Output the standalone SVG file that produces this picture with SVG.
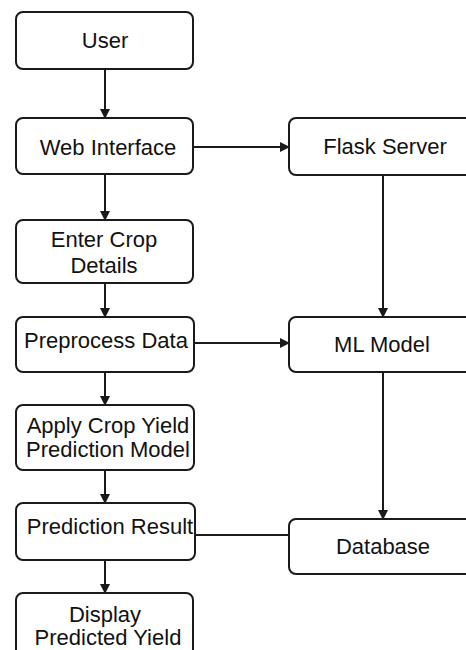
<svg xmlns="http://www.w3.org/2000/svg" width="466" height="650" viewBox="0 0 466 650">
<style>
.box{fill:#fff;stroke:#1a1a1a;stroke-width:2}
.t{font-family:"Liberation Sans",Arial,sans-serif;font-size:22px;fill:#111;text-anchor:middle}
.c{stroke:#1a1a1a;stroke-width:2;fill:none}
</style>
<defs>
<marker id="ah" markerWidth="10" markerHeight="10" refX="9" refY="5" orient="auto" markerUnits="userSpaceOnUse">
<path d="M0,0 L10,5 L0,10 Z" fill="#1a1a1a"/>
</marker>
</defs>
<rect width="466" height="650" fill="#fff"/>
<g id="connectors">
<line class="c" x1="105" y1="69" x2="105" y2="118" marker-end="url(#ah)"/>
<line class="c" x1="105" y1="174" x2="105" y2="220" marker-end="url(#ah)"/>
<line class="c" x1="105" y1="283" x2="105" y2="317" marker-end="url(#ah)"/>
<line class="c" x1="105" y1="372" x2="105" y2="405" marker-end="url(#ah)"/>
<line class="c" x1="105" y1="470" x2="105" y2="503" marker-end="url(#ah)"/>
<line class="c" x1="105" y1="560" x2="105" y2="593" marker-end="url(#ah)"/>
<line class="c" x1="193" y1="147" x2="289" y2="147" marker-end="url(#ah)"/>
<line class="c" x1="194" y1="343" x2="289" y2="343" marker-end="url(#ah)"/>
<line class="c" x1="383" y1="175" x2="383" y2="317" marker-end="url(#ah)"/>
<line class="c" x1="383" y1="372" x2="383" y2="519" marker-end="url(#ah)"/>
<line class="c" x1="195" y1="535" x2="289" y2="535"/>
</g>
<g id="user"><rect class="box" x="16" y="12" width="177" height="57" rx="7"/><text class="t" x="105" y="48">User</text></g>
<g id="web"><rect class="box" x="16" y="118" width="177" height="56" rx="7"/><text class="t" x="108" y="155">Web Interface</text></g>
<g id="enter"><rect class="box" x="16" y="220" width="177" height="63" rx="7"/><text class="t" x="104" y="247">Enter Crop</text><text class="t" x="104" y="273">Details</text></g>
<g id="preprocess"><rect class="box" x="16" y="317" width="178" height="55" rx="7"/><text class="t" x="106" y="348">Preprocess Data</text></g>
<g id="apply"><rect class="box" x="16" y="405" width="178" height="65" rx="7"/><text class="t" x="108" y="433">Apply Crop Yield</text><text class="t" x="108" y="457">Prediction Model</text></g>
<g id="result"><rect class="box" x="16" y="503" width="179" height="57" rx="7"/><text class="t" x="110" y="534">Prediction Result</text></g>
<g id="display"><rect class="box" x="16" y="593" width="177" height="80" rx="7"/><text class="t" x="105" y="622">Display</text><text class="t" x="108" y="645">Predicted Yield</text></g>
<g id="flask"><rect class="box" x="289" y="118" width="200" height="57" rx="7"/><text class="t" x="385" y="154">Flask Server</text></g>
<g id="ml"><rect class="box" x="289" y="317" width="200" height="55" rx="7"/><text class="t" x="382" y="352">ML Model</text></g>
<g id="database"><rect class="box" x="289" y="519" width="200" height="55" rx="7"/><text class="t" x="383" y="554">Database</text></g>
</svg>
